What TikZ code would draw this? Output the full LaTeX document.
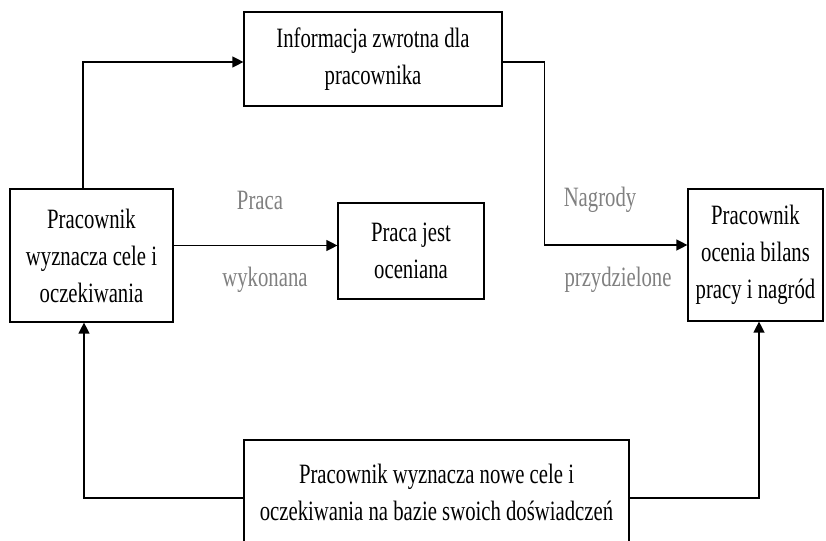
\documentclass[tikz,border=0pt]{standalone}
\usepackage{fontspec}
\setmainfont{Liberation Serif}[FakeStretch=0.74]
\usetikzlibrary{arrows.meta}

\tikzset{
  blok/.style={draw, line width=1.2pt, inner sep=0pt, align=center,
    font=\fontsize{28}{37}\selectfont},
  opis/.style={text=gray, font=\fontsize{28}{37}\selectfont},
  strzalka/.style={line width=1.3pt, -{Triangle[length=11pt,width=11pt]}}
}

\begin{document}
\begin{tikzpicture}[x=1pt, y=-1pt]
\useasboundingbox (0,0) rectangle (826,540);

% Boxes.
\node[blok, minimum width=258pt, minimum height=94pt] (info) at (373,59)
  {Informacja zwrotna dla\\pracownika};
\node[blok, minimum width=163pt, minimum height=133pt] (cele) at (91.5,255.5)
  {Pracownik\\wyznacza cele i\\oczekiwania};
\node[blok, minimum width=146pt, minimum height=96pt] (praca) at (411,251)
  {Praca jest\\oceniana};
\node[blok, minimum width=135pt, minimum height=132pt] (ocena) at (755.5,255)
  {Pracownik\\ocenia bilans\\pracy i nagród};
\node[blok, minimum width=385pt, minimum height=105pt] (nowe) at (436.5,492.5)
  {Pracownik wyznacza nowe cele i\\oczekiwania na bazie swoich doświadczeń};

% Labels on the connectors.
\node[opis] (praca1) at (260,200) {Praca};
\node[opis] (praca2) at (265,280) {wykonana};
\node[opis] (nagr1) at (600,200) {Nagrody};
\node[opis] (nagr2) at (618,280) {przydzielone};

% Draw connectors.
\draw[strzalka] ([xshift=-8.5pt]cele.north) |- ([yshift=-3pt]info.west);
\draw[strzalka] ([yshift=-3pt]info.east) -- ++(42,0) |- ([yshift=10pt]ocena.west);
\draw[strzalka] ([yshift=10pt]cele.east) -- ([yshift=10pt]cele.east -| praca.west);
\draw[strzalka] ([yshift=-5.5pt]nowe.west) -| ([xshift=-7.5pt]cele.south);
\draw[strzalka] ([yshift=-5.5pt]nowe.east) -| ([xshift=3.5pt]ocena.south);

\end{tikzpicture}
\end{document}
